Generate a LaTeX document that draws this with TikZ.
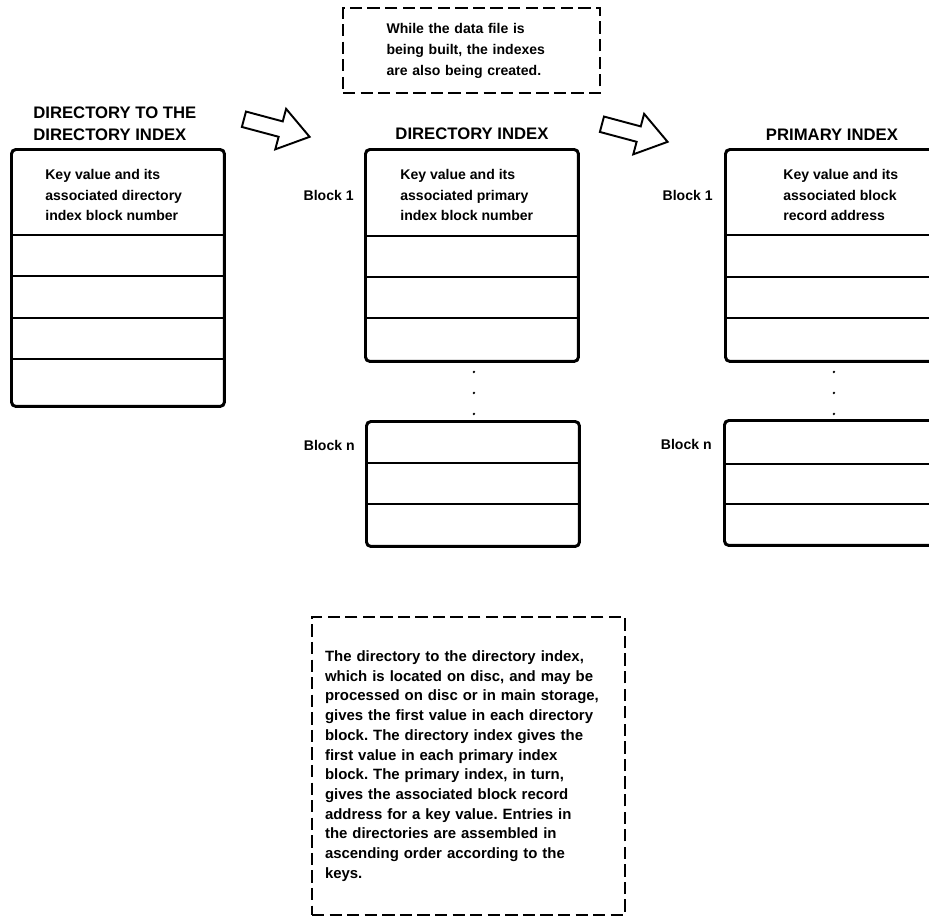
\documentclass[tikz,border=0pt]{standalone}
\usepackage{fontspec}
\setmainfont{Liberation Sans}
\frenchspacing
\usetikzlibrary{positioning, calc, shapes.arrows}

\begin{document}
\begin{tikzpicture}[
            x=0.02cm, y=-0.02cm,
            node distance=0.15cm,
            blockbox/.style={draw, line width=1.7pt, rounded corners=2.5pt, minimum width=4.26cm,
                        anchor=north west, inner sep=0pt},
            rowline/.style={line width=0.6pt},
            keytext/.style={font=\fontsize{8}{11.9}\selectfont\bfseries, align=left, anchor=west, inner sep=0pt},
            coltitle/.style={font=\fontsize{9.5}{12.5}\selectfont\bfseries, align=left, inner sep=0pt},
            blocklabel/.style={font=\fontsize{8}{10}\selectfont\bfseries, anchor=east, inner sep=0pt},
            notebox/.style={draw, line width=1.1pt, dash pattern=on 7pt off 3pt, align=left, inner sep=0pt},
            fatarrow/.style={single arrow, draw, line width=1.1pt, minimum height=1.36cm,
                        single arrow head extend=0.26cm, single arrow tip angle=70,
                        inner xsep=0pt, inner ysep=0.14cm, anchor=tail, rotate=-15}
        ]
            \useasboundingbox (0,0) rectangle (929,916);

            % note on top
            \node[notebox, minimum width=5.14cm, minimum height=1.7cm, text width=3.4cm,
                  font=\fontsize{8}{11.9}\selectfont\bfseries] (buildnote) at (471.5,50.5)
                  {While the data file is\\being built, the indexes\\are also being created.};

            % directory to the directory index
            \node[blockbox, minimum height=5.14cm] (dti) at (10,148) {};
            \foreach \d in {87,128,170,211}
                \draw[rowline] ($(dti.north west)+(0,\d)$) -- ($(dti.north east)+(0,\d)$);
            \node[keytext] (dtikey) at ($(dti.north west)+(35,47)$) {Key value and its\\associated directory\\index block number};
            \node[coltitle, anchor=south west] (dtititle) at ($(dti.north west)+(23,-7)$) {DIRECTORY TO THE\\DIRECTORY INDEX};

            % directory index
            \node[blockbox, minimum height=4.24cm] (dib1) at (364,148) {};
            \foreach \d in {88,129,170}
                \draw[rowline] ($(dib1.north west)+(0,\d)$) -- ($(dib1.north east)+(0,\d)$);
            \node[keytext] (dib1key) at ($(dib1.north west)+(36,47)$) {Key value and its\\associated primary\\index block number};
            \node[blocklabel] (dib1lbl) at ($(dib1.north west)+(-10,47)$) {Block 1};
            \node[coltitle, above=of dib1] (dititle) {DIRECTORY INDEX};
            \foreach \d in {9,30,51}
                \fill ($(dib1.south)+(2,\d)$) circle (1.3);

            \node[blockbox, minimum height=2.5cm] (dibn) at (365,420) {};
            \foreach \d in {43,84}
                \draw[rowline] ($(dibn.north west)+(0,\d)$) -- ($(dibn.north east)+(0,\d)$);
            \node[blocklabel] (dibnlbl) at ($(dibn.north west)+(-10,25)$) {Block n};

            % primary index
            \node[blockbox, minimum height=4.24cm] (pib1) at (724,148) {};
            \foreach \d in {87,129,170}
                \draw[rowline] ($(pib1.north west)+(0,\d)$) -- ($(pib1.north east)+(0,\d)$);
            \node[keytext] (pib1key) at ($(pib1.north west)+(59,47)$) {Key value and its\\associated block\\record address};
            \node[blocklabel] (pib1lbl) at ($(pib1.north west)+(-11,47)$) {Block 1};
            \node[coltitle, above=of pib1] (pititle) {PRIMARY INDEX};
            \foreach \d in {9,30,51}
                \fill ($(pib1.south)+(2,\d)$) circle (1.3);

            \node[blockbox, minimum height=2.5cm] (pibn) at (723,419) {};
            \foreach \d in {45,85}
                \draw[rowline] ($(pibn.north west)+(0,\d)$) -- ($(pibn.north east)+(0,\d)$);
            \node[blocklabel] (pibnlbl) at ($(pibn.north west)+(-11,25)$) {Block n};

            % hollow arrows
            \node[fatarrow] (arrowa) at (243,119) {};
            \node[fatarrow] (arrowb) at (601,124) {};

            % note at the bottom
            \node[notebox, minimum width=6.26cm, minimum height=5.96cm, text width=5.74cm,
                  font=\fontsize{8.5}{11.2}\selectfont\bfseries] (readnote) at (468.5,766)
                  {The directory to the directory index,\\which is located on disc, and may be\\processed on disc or in main storage,\\gives the first value in each directory\\block. The directory index gives the\\first value in each primary index\\block. The primary index, in turn,\\gives the associated block record\\address for a key value. Entries in\\the directories are assembled in\\ascending order according to the\\keys.};
        \end{tikzpicture}
\end{document}
